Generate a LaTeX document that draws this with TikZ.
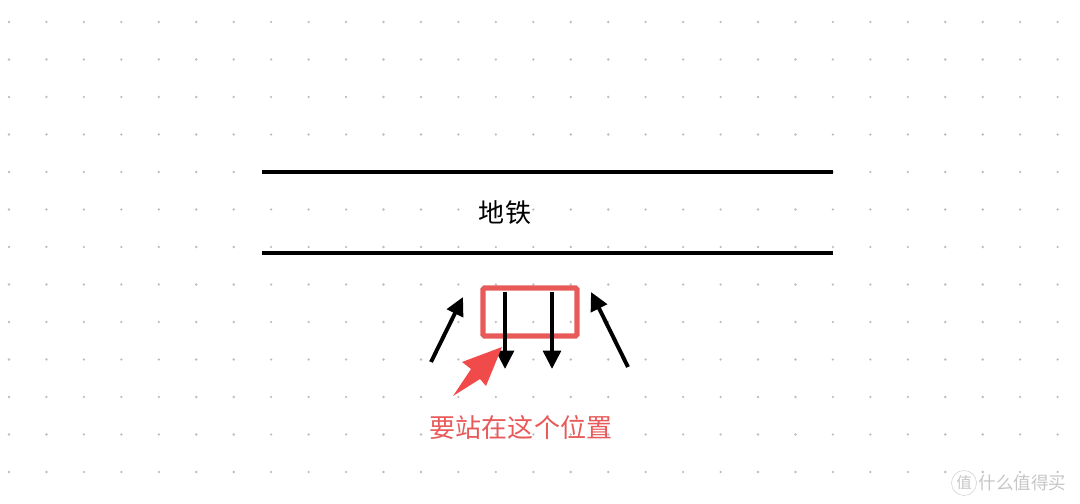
\documentclass[tikz,border=0pt]{standalone}
\usepackage{fontspec}
\usepackage{tikz}
\usetikzlibrary{arrows.meta,positioning}
\newfontfamily\cjk{Noto Sans CJK SC}
\definecolor{markred}{HTML}{E85A5A}
\definecolor{pointred}{HTML}{F04A4A}
\definecolor{gridgray}{HTML}{BDBDBD}
\tikzset{
  track/.style={line width=2.8pt},
  flow/.style={line width=2.8pt,-{Triangle[length=13pt,width=12.5pt]}},
  label/.style={font=\cjk\fontsize{18.5}{18.5}\selectfont,inner sep=0pt},
  every node/.style={font=\cjk}
}

\begin{document}
\begin{tikzpicture}[x=0.025cm, y=-0.025cm]
  \useasboundingbox (0,0) rectangle (1080,504);
  % --- dotted grid ---
  \foreach \i in {0,...,28}
    \foreach \j in {0,...,12}
      \fill[gridgray] (9+37.45*\i,22+37.5*\j) circle (1.3);

  % --- subway platform ---
  \coordinate (topL) at (262,172);
  \coordinate (topR) at (833,172);
  \coordinate (botL) at (262,253);
  \coordinate (botR) at (833,253);
  \draw[track] (topL) -- (topR);
  \draw[track] (botL) -- (botR);
  \node[label] (subway) at (505,213) {地铁};

  % --- door zone ---
  \node[draw=markred, line width=3.6pt, rounded corners=1pt,
        minimum width=94*0.025cm, minimum height=48*0.025cm, inner sep=0pt]
        (door) at (530,312) {};

  % --- passengers getting off ---
  \coordinate (outA) at (505,292);
  \coordinate (outAend) at (505,369);
  \coordinate (outB) at (552,292);
  \coordinate (outBend) at (552,369);
  \draw[flow] (outA) -- (outAend);
  \draw[flow] (outB) -- (outBend);

  % --- passengers getting on ---
  \coordinate (inL) at (431,362);
  \coordinate (inLend) at (463,297);
  \coordinate (inR) at (628,367);
  \coordinate (inRend) at (591,292);
  \draw[flow] (inL) -- (inLend);
  \draw[flow] (inR) -- (inRend);

  % --- hint ---
  \node[label, text=markred] (hint) at (521,428) {要站在这个位置};
  \fill[pointred] (453,396) -- (471,369) -- (462,362) -- (502,347)
    -- (486,386) -- (480,379) -- cycle;

  % --- watermark ---
  \node[draw=gray!35, circle, inner sep=1pt, text=gray!45,
        font=\cjk\fontsize{11}{11}\selectfont] (wmark) at (964,483) {值};
  \node[right=1pt of wmark, inner sep=0pt, text=gray!45,
        font=\cjk\fontsize{12.5}{12.5}\selectfont] (wtext) {什么值得买};
\end{tikzpicture}
\end{document}
